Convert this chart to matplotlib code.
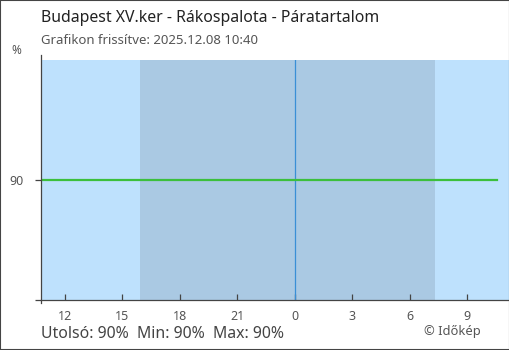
import matplotlib
matplotlib.use("Agg")
import matplotlib.pyplot as plt
from matplotlib.patches import Rectangle

plt.rcParams['font.family'] = ['Noto Sans', 'DejaVu Sans']

# hours relative to midnight (negative = previous day)
times = [-13.25, -12, -11, -10, -9, -8, -7, -6, -5, -4, -3, -2, -1, 0,
         1, 2, 3, 4, 5, 6, 7, 8, 9, 10, 10.55]
humidity = [90] * len(times)

x_start, x_end = -13.25, 11.17
sunset, sunrise = -8.08, 7.3

tick_pos = [-12, -9, -6, -3, 0, 3, 6, 9]
tick_labels = ['12', '15', '18', '21', '0', '3', '6', '9']

title = "Budapest XV.ker - Rákospalota - Páratartalom"
subtitle = "Grafikon frissítve: 2025.12.08 10:40"
summary = "Utolsó: 90%  Min: 90%  Max: 90%"

W, H = 510, 350
fig = plt.figure(figsize=(W / 100, H / 100), dpi=100)
ax = fig.add_axes([41 / W, 50 / H, 468 / W, 240 / H])

ax.set_facecolor('#bee1fd')
ax.axvspan(sunset, sunrise, color='#aac9e3', lw=0)
ax.axvline(0, color='#3a8fd6', lw=0.9)
ax.plot(times, humidity, color='#3cbf3c', lw=1.6)

ax.set_xlim(x_start, x_end)
ax.set_ylim(80, 100)

ax.set_xticks(tick_pos)
ax.set_xticklabels(tick_labels)
ax.set_yticks([80, 90])
ax.set_yticklabels(['', '90'])
ax.tick_params(axis='x', direction='in', length=4.5, width=0.9, color='#444',
               labelcolor='#555', labelsize=9, pad=7)
ax.tick_params(axis='y', direction='out', length=4.5, width=0.9, color='#444',
               labelcolor='#555', labelsize=9, pad=8)

for s in ['top', 'right']:
    ax.spines[s].set_visible(False)
ax.spines['left'].set_visible(False)
ax.spines['bottom'].set_color('#444')
ax.spines['bottom'].set_linewidth(0.9)
ax.plot([0, 0], [-0.012, 1.02], transform=ax.transAxes, color='#444',
        lw=0.9, clip_on=False)

fig.text(41 / W, 1 - 18 / H, title, fontsize=11.4, color='#222', va='center')
fig.text(41 / W, 1 - 41 / H, subtitle, fontsize=9.5, color='#555', va='center')
fig.text(16 / W, 1 - 50 / H, '%', fontsize=8.5, color='#555', ha='center', va='center')
fig.text(41 / W, 1 - 334 / H, summary, fontsize=11.4, color='#444', va='center')
fig.text(481 / W, 1 - 331 / H, '© Időkép', fontsize=9.3, color='#555', ha='right', va='center')

fig.patches.append(Rectangle((0, 0), 1, 1, transform=fig.transFigure, fill=False,
                             edgecolor='#444', lw=1.5))

fig.savefig('out.png', dpi=100)
